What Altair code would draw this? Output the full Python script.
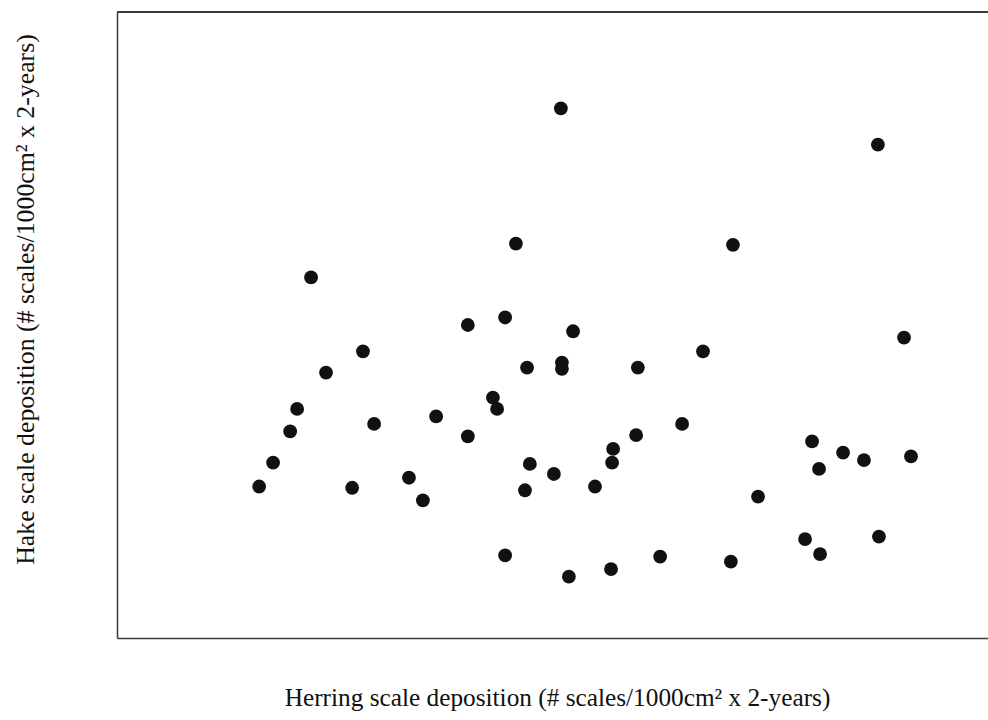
import altair as alt
import pandas as pd

# Herring vs. hake scale deposition per sample (arbitrary units, no tick labels shown)
herring = [40.8, 44.8, 49.7, 51.7, 55.7, 60.0, 67.5, 70.6, 73.8, 83.8,
           87.8, 91.6, 100.7, 100.7, 107.9, 109.1, 111.4, 111.4, 114.5, 117.1,
           117.7, 118.5, 125.4, 127.4, 127.7, 127.7, 129.7, 130.9, 137.2, 141.8,
           142.1, 142.4, 149.0, 149.5, 155.9, 162.2, 168.2, 176.2, 176.8, 184.0,
           197.5, 199.5, 201.5, 201.8, 208.4, 214.4, 218.4, 218.7, 225.9, 227.9]
hake = [12.1, 14.0, 16.5, 18.3, 28.8, 21.2, 12.0, 22.9, 17.1, 12.8,
        11.0, 17.7, 25.0, 16.1, 19.2, 18.3, 25.6, 6.6, 31.5, 11.8,
        21.6, 13.9, 13.1, 42.3, 22.0, 21.5, 4.9, 24.5, 12.1, 5.5,
        14.0, 15.1, 16.2, 21.6, 6.5, 17.1, 22.9, 6.1, 31.4, 11.3,
        7.9, 15.7, 13.5, 6.7, 14.8, 14.2, 39.4, 8.1, 24.0, 14.5]

df = pd.DataFrame({"herring": herring, "hake": hake})

W, H = 871, 626
FONT = "Liberation Serif"
LINE = "#3a3a3a"

points = alt.Chart(df).mark_circle(size=190, color="#111111", opacity=1).encode(
    x=alt.X("herring:Q",
            scale=alt.Scale(domain=[0, 250], nice=False, zero=False),
            axis=alt.Axis(title="Herring scale deposition (# scales/1000cm² x 2-years)",
                          labels=False, ticks=False, grid=False,
                          domainColor=LINE, domainWidth=1.5,
                          titleFont=FONT, titleFontSize=25.3, titleFontWeight="normal",
                          titleColor="#111111", titleX=440, titleY=59,
                          titleAlign="center", titleBaseline="middle")),
    y=alt.Y("hake:Q",
            scale=alt.Scale(domain=[0, 50], nice=False, zero=False),
            axis=alt.Axis(title="Hake scale deposition (# scales/1000cm² x 2-years)",
                          labels=False, ticks=False, grid=False,
                          domainColor=LINE, domainWidth=1.5,
                          titleFont=FONT, titleFontSize=25.8, titleFontWeight="normal",
                          titleColor="#111111", titleX=-92, titleY=287,
                          titleAngle=270, titleAlign="center", titleBaseline="middle")),
)

# top edge of the frame, running off to the right
top_edge = alt.Chart(df).mark_rule(color=LINE, strokeWidth=1.5).encode(
    y=alt.value(0), x=alt.value(0), x2=alt.value(W + 20)
)

chart = alt.layer(points, top_edge).properties(
    width=W, height=H,
    autosize=alt.AutoSizeParams(type="none"),
    padding={"left": 117, "top": 12, "right": 0, "bottom": 82},
).configure_view(stroke=None).configure(background="white")

chart.save("out.html", embed_options={"renderer": "svg", "actions": False})
